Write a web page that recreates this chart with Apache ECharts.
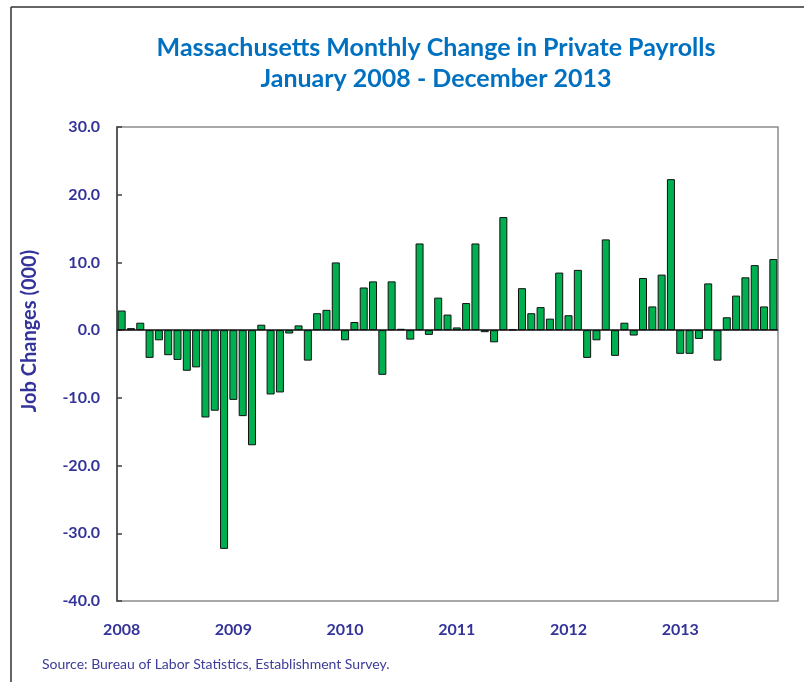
<!DOCTYPE html>
<html>
<head>
<meta charset="utf-8">
<title>Massachusetts Monthly Change in Private Payrolls</title>
<script src="https://cdn.jsdelivr.net/npm/echarts@6/dist/echarts.min.js"></script>
<style>
  html, body { margin: 0; padding: 0; background: #fff; }
  #box { width: 804px; height: 682px; }
</style>
</head>
<body>
<div id="box"></div>
<script>
// monthly change in private payrolls, thousands
const years = ['2008', '2009', '2010', '2011', '2012', '2013']
const months = ['Jan', 'Feb', 'Mar', 'Apr', 'May', 'Jun', 'Jul', 'Aug', 'Sep', 'Oct', 'Nov', 'Dec']
const y2008 = [2.9, 0.3, 1.1, -4.1, -1.5, -3.7, -4.4, -6.0, -5.5, -12.9, -11.9, -32.3]
const y2009 = [-10.3, -12.7, -17.0, 0.8, -9.5, -9.2, -0.5, 0.7, -4.5, 2.5, 3.0, 10.0]
const y2010 = [-1.5, 1.2, 6.3, 7.2, -6.6, 7.2, 0.2, -1.4, 12.8, -0.7, 4.8, 2.3]
const y2011 = [0.4, 4.0, 12.8, -0.3, -1.8, 16.7, 0.1, 6.2, 2.5, 3.4, 1.7, 8.5]
const y2012 = [2.2, 8.9, -4.1, -1.5, 13.4, -3.8, 1.1, -0.8, 7.7, 3.5, 8.2, 22.3]
const y2013 = [-3.5, -3.5, -1.3, 6.9, -4.5, 1.9, 5.1, 7.8, 9.6, 3.5, 10.5]
const yTicks = [-40, -30, -20, -10, 0, 10, 20, 30]

const byYear = [y2008, y2009, y2010, y2011, y2012, y2013]
const categories = []
const values = []
byYear.forEach((arr, i) => {
  arr.forEach((v, m) => {
    categories.push(months[m] + ' ' + years[i])
    values.push(v)
  })
})

const navy = '#333399'
const myChart = echarts.init(document.getElementById('box'))
const option = {
  animation: false,
  textStyle: { fontFamily: 'Lato' },
  title: {
    text: 'Massachusetts Monthly Change in Private Payrolls\nJanuary 2008 - December 2013',
    left: 431,
    top: 27,
    textAlign: 'center',
    textStyle: {
      color: '#0070C0',
      fontSize: 25,
      fontWeight: 'bold',
      fontFamily: 'Lato',
      lineHeight: 31
    }
  },
  graphic: [
    { type: 'line', shape: { x1: 11, y1: 7, x2: 804, y2: 7 }, style: { stroke: '#333', lineWidth: 1.5 } },
    { type: 'line', shape: { x1: 11, y1: 7, x2: 11, y2: 682 }, style: { stroke: '#333', lineWidth: 1.5 } },
    {
      // axis title sits centred on the zero line, not on the plot middle
      type: 'text', x: 30, y: 331, rotation: Math.PI / 2,
      style: {
        text: 'Job Changes (000)', fill: navy, fontSize: 20, fontWeight: 'bold', fontFamily: 'Lato',
        align: 'center', verticalAlign: 'middle'
      }
    },
    {
      type: 'text', left: 42, top: 657,
      style: { text: 'Source: Bureau of Labor Statistics, Establishment Survey.', fill: '#3c3c98', fontSize: 14, fontFamily: 'Lato' }
    }
  ],
  grid: {
    left: 117,
    right: 26,
    top: 127,
    bottom: 81,
    show: true,
    borderColor: '#8c8c8c',
    borderWidth: 1.5,
    containLabel: false
  },
  xAxis: {
    type: 'category',
    data: categories,
    axisLine: { show: false },
    axisTick: { show: false },
    axisLabel: {
      interval: 0,
      margin: 21,
      color: navy,
      fontSize: 16,
      fontWeight: 'bold',
      formatter: (val, idx) => (idx % 12 === 0 ? val.split(' ')[1] : '')
    }
  },
  yAxis: {
    type: 'value',
    min: yTicks[0],
    max: yTicks[yTicks.length - 1],
    interval: 10,
    splitLine: { show: false },
    axisLine: { show: true, lineStyle: { color: '#404040', width: 1.5 } },
    axisTick: { show: true, inside: true, length: 5, lineStyle: { color: '#404040', width: 1.5 } },
    axisLabel: {
      margin: 17,
      color: navy,
      fontSize: 16,
      fontWeight: 'bold',
      formatter: v => v.toFixed(1)
    }
  },
  series: [
    {
      name: 'Change',
      type: 'bar',
      data: values,
      barWidth: 8,
      itemStyle: { color: '#00B050', borderColor: '#111', borderWidth: 1 },
      markLine: {
        silent: true,
        symbol: 'none',
        label: { show: false },
        lineStyle: { color: '#111', width: 1.5, type: 'solid' },
        data: [{ yAxis: 0 }]
      }
    }
  ]
}
myChart.setOption(option)
</script>
</body>
</html>
